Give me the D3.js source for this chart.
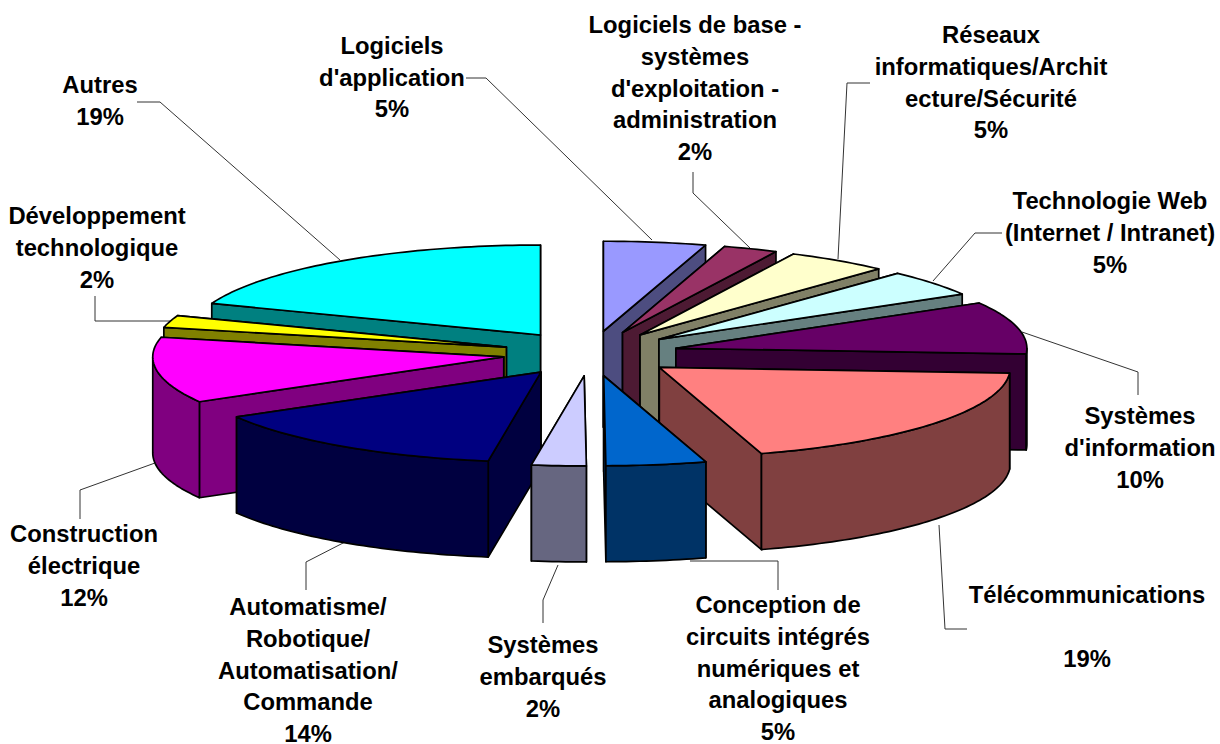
<!DOCTYPE html>
<html>
<head>
<meta charset="utf-8">
<script src="https://cdn.jsdelivr.net/npm/d3@7"></script>
<style>
  html, body { margin: 0; background: #fff; }
  svg { display: block; }
  text { font: bold 23.8px "Liberation Sans", Arial, sans-serif; fill: #000; }
</style>
</head>
<body>
<div id="chart"></div>
<script>
const categories = [
    "Logiciels d'application",
    "Logiciels de base - systèmes d'exploitation - administration",
    "Réseaux informatiques/Architecture/Sécurité",
    "Technologie Web (Internet / Intranet)",
    "Systèmes d'information",
    "Télécommunications",
    "Conception de circuits intégrés numériques et analogiques",
    "Systèmes embarqués",
    "Automatisme/Robotique/Automatisation/Commande",
    "Construction électrique",
    "Développement technologique",
    "Autres"
];
const values = [4.7, 2.5, 4.7, 4.7, 9.4, 19.3, 4.6, 2.5, 14.3, 11.8, 2.2, 19.3];
const percentLabels = ["5%", "2%", "5%", "5%", "10%", "19%", "5%", "2%", "14%", "12%", "2%", "19%"];
const colors = ["#9999ff", "#993366", "#ffffcc", "#ccffff", "#660066", "#ff8080",
    "#0066cc", "#ccccff", "#000080", "#ff00ff", "#ffff00", "#00ffff"];

// how the labels are broken in the picture
const labelLines = [
    ["Logiciels", "d'application"],
    ["Logiciels de base -", "systèmes", "d'exploitation -", "administration"],
    ["Réseaux", "informatiques/Archit", "ecture/Sécurité"],
    ["Technologie Web", "(Internet / Intranet)"],
    ["Systèmes", "d'information"],
    ["Télécommunications", ""],
    ["Conception de", "circuits intégrés", "numériques et", "analogiques"],
    ["Systèmes", "embarqués"],
    ["Automatisme/", "Robotique/", "Automatisation/", "Commande"],
    ["Construction", "électrique"],
    ["Développement", "technologique"],
    ["Autres"]
];

// layout only: label anchor (centre x, first line y) and leader polyline
const labelPos = [
    [392, 45.5], [695, 25], [991, 35], [1110, 201], [1140, 416], [1087, 595],
    [778, 605], [543, 645], [308, 607], [84, 534], [97, 216], [100, 85]
];
const leaders = [
    [[466, 78], [486, 78], [652, 240]],
    [[693, 172], [693, 193], [750, 248]],
    [[870, 83], [847, 83], [838, 259]],
    [[1002, 233], [975, 233], [933, 281]],
    [[1138, 395], [1138, 372], [1022, 332]],
    [[967, 629], [945, 629], [939, 525]],
    [[778, 590], [778, 561], [690, 561]],
    [[543, 623], [543, 600], [558, 565]],
    [[306, 590], [306, 562], [345, 542]],
    [[80, 519], [80, 490], [155, 463]],
    [[95, 296], [95, 321], [170, 321]],
    [[137, 102], [160, 102], [340, 260]]
];

const width = 1220;
const height = 744;
const cx = 590.5, cy = 353.5;
const rx = 351, ry = 90;
const depth = 96;
const explode = 0.25;
const lineHeight = 31.7;

// unit circle -> picture, the pie is seen flat from above at an angle
const x = d3.scaleLinear().domain([-1, 1]).range([cx - rx, cx + rx]);
const y = d3.scaleLinear().domain([-1, 1]).range([cy - ry, cy + ry]);

const arcs = d3.pie().sort(null).value(d => d)(values);

const svg = d3.select("#chart").append("svg")
    .attr("width", width)
    .attr("height", height)
    .attr("viewBox", [0, 0, width, height]);

// leader lines
svg.append("g")
    .selectAll("path")
    .data(leaders)
    .join("path")
    .attr("d", d3.line())
    .attr("fill", "none")
    .attr("stroke", "#333")
    .attr("stroke-width", 1);

function slicePoint(d, angle, radius, drop) {
    const mid = (d.startAngle + d.endAngle) / 2;
    return [
        x(explode * Math.sin(mid) + radius * Math.sin(angle)),
        y(-explode * Math.cos(mid) - radius * Math.cos(angle)) + drop
    ];
}

function arcPoints(d, a0, a1, drop) {
    const n = Math.max(2, Math.ceil((a1 - a0) / 0.02));
    return d3.range(n + 1).map(i => slicePoint(d, a0 + (a1 - a0) * i / n, 1, drop));
}

const line = d3.line();

function wall(d, angle) {
    return line([
        slicePoint(d, 0, 0, 0),
        slicePoint(d, angle, 1, 0),
        slicePoint(d, angle, 1, depth),
        slicePoint(d, 0, 0, depth)
    ]) + "Z";
}

function rim(d) {
    const a0 = Math.max(d.startAngle, Math.PI / 2);
    const a1 = Math.min(d.endAngle, Math.PI * 1.5);
    if (a1 <= a0) return null;
    return line(arcPoints(d, a0, a1, 0).concat(arcPoints(d, a0, a1, depth).reverse())) + "Z";
}

function topFace(d) {
    return line([slicePoint(d, 0, 0, 0)].concat(arcPoints(d, d.startAngle, d.endAngle, 0))) + "Z";
}

const midAngle = d => (d.startAngle + d.endAngle) / 2;
const shade = c => d3.interpolateRgb(c, "#000")(0.5);

// back slices first, so the nearer ones cover them
const order = arcs.slice().sort((a, b) => Math.cos(midAngle(b)) - Math.cos(midAngle(a)));

const slice = svg.append("g")
    .attr("stroke", "#000")
    .attr("stroke-width", 1.7)
    .attr("stroke-linejoin", "round")
    .selectAll("g")
    .data(order)
    .join("g");

slice.append("path")
    .attr("d", d => wall(d, midAngle(d) < Math.PI ? d.startAngle : d.endAngle))
    .attr("fill", d => shade(colors[d.index]));
slice.append("path")
    .attr("d", d => wall(d, midAngle(d) < Math.PI ? d.endAngle : d.startAngle))
    .attr("fill", d => shade(colors[d.index]));
slice.filter(d => rim(d)).append("path")
    .attr("d", rim)
    .attr("fill", d => shade(colors[d.index]));
slice.append("path")
    .attr("d", topFace)
    .attr("fill", d => colors[d.index]);

// labels
const label = svg.append("g")
    .attr("text-anchor", "middle")
    .selectAll("text")
    .data(categories)
    .join("text")
    .attr("transform", (d, i) => `translate(${labelPos[i][0]},${labelPos[i][1]})`);

label.selectAll("tspan")
    .data((d, i) => labelLines[i].concat(percentLabels[i]))
    .join("tspan")
    .attr("x", 0)
    .attr("y", (d, i) => i * lineHeight)
    .attr("dy", "0.35em")
    .text(d => d);
</script>
</body>
</html>
